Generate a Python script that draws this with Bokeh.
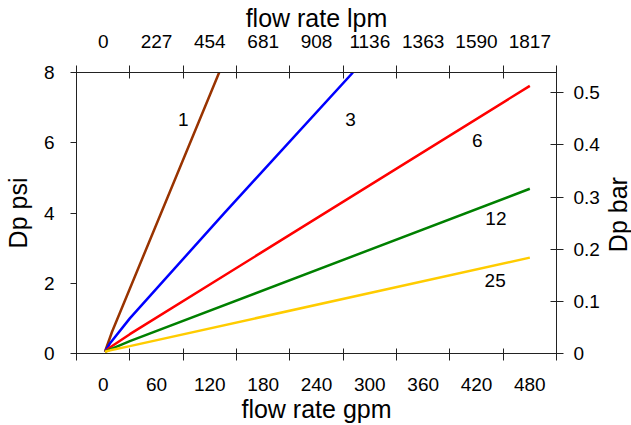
import math
from bokeh.plotting import figure
from bokeh.layouts import row
from bokeh.models import (Range1d, LinearAxis, FixedTicker)
from bokeh.core.properties import value
from bokeh.embed import file_html
from bokeh.resources import INLINE

# ---- data ----
gpm_ticks = [0, 60, 120, 180, 240, 300, 360, 420, 480]
gpm_minor = [-30, 30, 90, 150, 210, 270, 330, 390, 450, 510]
lpm_labels = ["0", "227", "454", "681", "908", "1136", "1363", "1590", "1817"]
psi_ticks = [0, 2, 4, 6, 8]
bar_ticks = [0, 0.1, 0.2, 0.3, 0.4, 0.5]

series_names = ["1", "3", "6", "12", "25"]
series_colors = ["#993300", "#0000ff", "#ff0000", "#008000", "#ffcc00"]
flow_1 = [2, 10, 130.5]
dp_1 = [0.05, 0.62, 8.0]
flow_3 = [2, 8, 30, 136, 281]
dp_3 = [0.05, 0.3, 1.0, 3.99, 8.0]
flow_6 = [2, 8, 30, 480]
dp_6 = [0.05, 0.18, 0.55, 7.62]
flow_12 = [2, 8, 30, 480]
dp_12 = [0.05, 0.12, 0.35, 4.69]
flow_25 = [2, 8, 30, 480]
dp_25 = [0.05, 0.09, 0.21, 2.73]
label_x = [90.2, 278.2, 421, 441.8, 441]
label_y = [6.66, 6.66, 6.05, 3.84, 2.09]
right_title = ["Dp bar"]

FONT = "Liberation Sans"
TICK_SIZE = "19px"
TITLE_SIZE = "25px"
AX_COLOR = "#222222"

p = figure(width=602, height=425, x_range=Range1d(-30, 510), y_range=Range1d(0, 8),
           output_backend="svg", toolbar_location=None,
           x_axis_location=None, y_axis_location=None,
           min_border_left=73, min_border_right=46, min_border_top=72, min_border_bottom=72)
p.extra_y_ranges = {"bar": Range1d(0, 0.539)}
p.xgrid.visible = False
p.ygrid.visible = False
p.outline_line_color = None
p.background_fill_color = "white"
p.border_fill_color = "white"


def style(ax):
    ax.axis_line_color = AX_COLOR
    ax.major_tick_line_color = AX_COLOR
    ax.minor_tick_line_color = AX_COLOR
    ax.major_label_text_font = FONT
    ax.major_label_text_font_size = TICK_SIZE
    ax.major_label_text_color = "black"
    ax.axis_label_text_font = FONT
    ax.axis_label_text_font_size = TITLE_SIZE
    ax.axis_label_text_font_style = "normal"
    ax.axis_label_text_color = "black"


# bottom axis (gpm)
xb = LinearAxis(ticker=FixedTicker(ticks=gpm_ticks, minor_ticks=gpm_minor),
                axis_label="flow rate gpm")
style(xb)
xb.major_tick_in = 0
xb.major_tick_out = 0
xb.minor_tick_in = 5
xb.minor_tick_out = 7
xb.major_label_standoff = 17
xb.axis_label_standoff = 1
p.add_layout(xb, "below")

# top axis (lpm)
xt = LinearAxis(ticker=FixedTicker(ticks=gpm_ticks, minor_ticks=gpm_minor),
                axis_label="flow rate lpm",
                major_label_overrides={t: l for t, l in zip(gpm_ticks, lpm_labels)})
style(xt)
xt.major_tick_in = 0
xt.major_tick_out = 0
xt.minor_tick_in = 6
xt.minor_tick_out = 7
xt.major_label_standoff = 18
xt.axis_label_standoff = 0
p.add_layout(xt, "above")

# left axis (psi)
yl = LinearAxis(ticker=FixedTicker(ticks=psi_ticks, minor_ticks=[]), axis_label="Dp psi")
style(yl)
yl.major_tick_in = 0
yl.major_tick_out = 6
yl.minor_tick_in = 0
yl.minor_tick_out = 0
yl.major_label_standoff = 16
yl.axis_label_standoff = 9
p.add_layout(yl, "left")

# right axis (bar)
yr = LinearAxis(y_range_name="bar", ticker=FixedTicker(ticks=bar_ticks, minor_ticks=[]),
                major_label_overrides={0: "0"})
style(yr)
yr.major_tick_in = 6
yr.major_tick_out = 7
yr.minor_tick_in = 0
yr.minor_tick_out = 0
yr.major_label_standoff = 10
p.add_layout(yr, "right")

flows = [flow_1, flow_3, flow_6, flow_12, flow_25]
dps = [dp_1, dp_3, dp_6, dp_12, dp_25]
for fx, dy, c in zip(flows, dps, series_colors):
    p.line(fx, dy, line_color=c, line_width=2.5)

p.text(x=label_x, y=label_y, text=series_names, text_align="center", text_baseline="middle",
       text_font=value(FONT), text_font_size=TICK_SIZE, text_color="black")

# narrow strip holding the right-hand axis title (reads bottom-to-top)
p2 = figure(width=29, height=425, x_range=Range1d(0, 29), y_range=Range1d(0, 425),
            output_backend="svg", toolbar_location=None,
            x_axis_location=None, y_axis_location=None,
            min_border_left=0, min_border_right=0, min_border_top=0, min_border_bottom=0)
p2.xgrid.visible = False
p2.ygrid.visible = False
p2.outline_line_color = None
p2.background_fill_color = "white"
p2.border_fill_color = "white"
p2.text(x=[15], y=[210], text=right_title, angle=math.pi / 2, text_align="center",
        text_baseline="middle", text_font=value(FONT), text_font_size=TITLE_SIZE,
        text_color="black")

layout = row(p, p2, spacing=0)
open("out.html", "w").write(file_html(layout, INLINE))
